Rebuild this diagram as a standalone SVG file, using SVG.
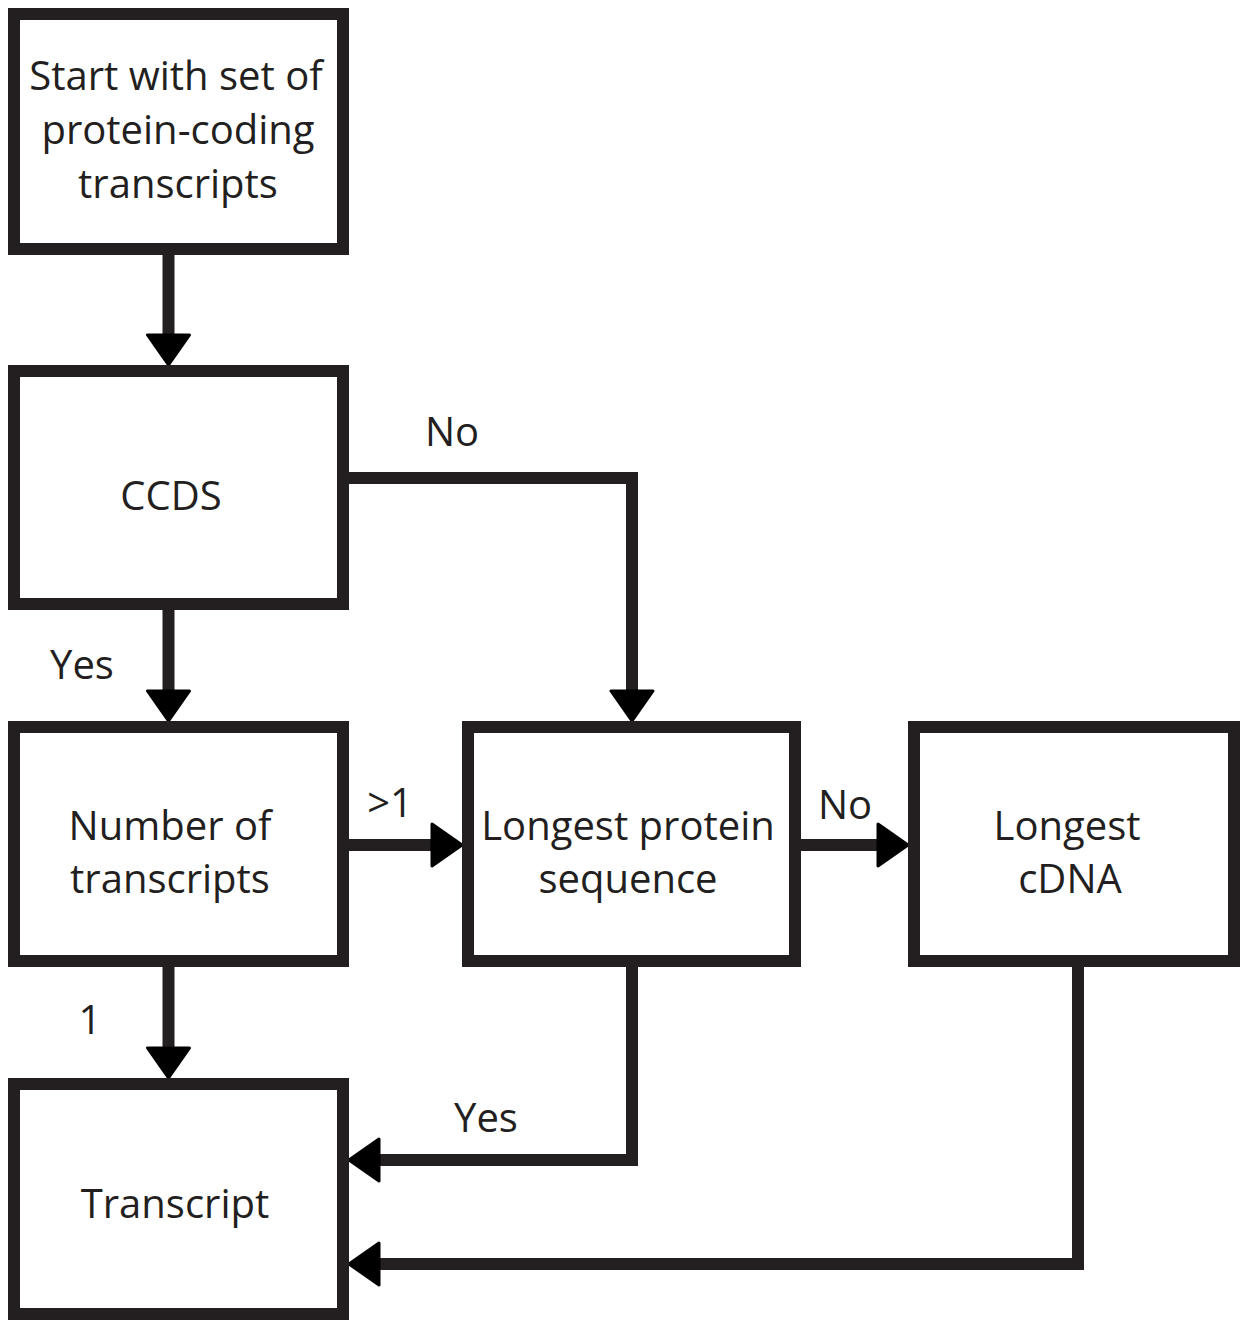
<svg xmlns="http://www.w3.org/2000/svg" width="1240" height="1320" viewBox="0 0 1240 1320">
<style>
.box{fill:#fff;stroke:#231f20;stroke-width:12}
.t{font-family:"Open Sans","Noto Sans",sans-serif;font-size:40px;fill:#231f20;text-anchor:middle}
.c{fill:none;stroke:#231f20;stroke-width:12}
</style>
<defs>
<marker id="ah" markerUnits="userSpaceOnUse" markerWidth="34" markerHeight="46" viewBox="-2 -2 34 46" refX="10" refY="21" orient="auto">
<path d="M0,0 L30,21 L0,42 z" fill="#000" stroke="#000" stroke-width="3" stroke-linejoin="round"/>
</marker>
</defs>
<rect width="1240" height="1320" fill="#fff"/>
<g id="connectors">
<path class="c" d="M168.5,255 V345" marker-end="url(#ah)"/>
<path class="c" d="M349,478 H632 V701" marker-end="url(#ah)"/>
<path class="c" d="M168.5,610 V701" marker-end="url(#ah)"/>
<path class="c" d="M168.5,967 V1058" marker-end="url(#ah)"/>
<path class="c" d="M349,845 H442" marker-end="url(#ah)"/>
<path class="c" d="M801,845 H888" marker-end="url(#ah)"/>
<path class="c" d="M632,967 V1160 H369" marker-end="url(#ah)"/>
<path class="c" d="M1078,967 V1264 H369" marker-end="url(#ah)"/>
</g>
<g id="labels">
<text class="t" x="452" y="446">No</text>
<text class="t" x="82" y="679">Yes</text>
<text class="t" x="390" y="817">&gt;1</text>
<text class="t" x="845" y="819">No</text>
<text class="t" x="90" y="1034">1</text>
<text class="t" x="486" y="1132">Yes</text>
</g>
<g id="start">
<rect class="box" x="14" y="14" width="329" height="235"/>
<text class="t" x="176" y="90">Start with set of</text>
<text class="t" x="178" y="144">protein-coding</text>
<text class="t" x="178" y="198">transcripts</text>
</g>
<g id="ccds">
<rect class="box" x="14" y="371" width="329" height="233"/>
<text class="t" x="171" y="510">CCDS</text>
</g>
<g id="number">
<rect class="box" x="14" y="727" width="329" height="234"/>
<text class="t" x="170" y="840">Number of</text>
<text class="t" x="170" y="893">transcripts</text>
</g>
<g id="protein">
<rect class="box" x="468" y="727" width="327" height="234"/>
<text class="t" x="628" y="840">Longest protein</text>
<text class="t" x="628" y="893">sequence</text>
</g>
<g id="cdna">
<rect class="box" x="914" y="727" width="320" height="234"/>
<text class="t" x="1067" y="840">Longest</text>
<text class="t" x="1070" y="893">cDNA</text>
</g>
<g id="transcript">
<rect class="box" x="14" y="1084" width="329" height="230"/>
<text class="t" x="175" y="1218">Transcript</text>
</g>
</svg>
